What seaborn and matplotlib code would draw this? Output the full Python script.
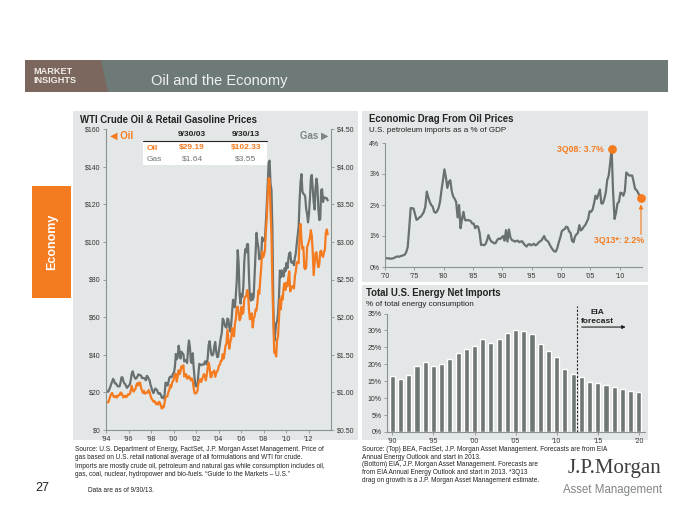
import numpy as np
import pandas as pd
import matplotlib
matplotlib.use("Agg")
import matplotlib.pyplot as plt
from matplotlib.patches import Rectangle, Polygon
import seaborn as sns

# --- data -------------------------------------------------------------
# WTI crude, monthly, Jan 1994 - Sep 2013 ($/bbl)
oil_price = [
    15.0, 14.8, 14.7, 16.4, 17.9, 19.1, 19.7, 18.4, 17.5, 17.7, 18.1, 17.2,
    18.0, 18.6, 18.5, 19.9, 19.7, 18.5, 17.3, 18.0, 18.2, 17.4, 18.0, 19.0,
    18.9, 19.1, 21.3, 23.5, 21.2, 20.4, 21.3, 21.9, 24.0, 24.9, 23.7, 25.2,
    25.1, 22.2, 21.0, 19.7, 20.8, 19.3, 19.7, 20.0, 19.8, 21.3, 20.2, 18.3,
    16.7, 16.1, 15.1, 15.4, 14.9, 13.7, 14.2, 13.5, 15.0, 14.5, 13.0, 11.4,
    12.5, 12.0, 14.7, 17.3, 17.7, 17.9, 20.1, 21.3, 23.8, 22.7, 25.0, 26.1,
    27.3, 29.4, 29.8, 25.7, 28.8, 31.8, 29.7, 31.3, 33.9, 33.1, 34.4, 28.4,
    29.6, 29.6, 27.3, 27.5, 28.6, 27.6, 26.4, 27.4, 26.2, 22.2, 19.6, 19.4,
    19.7, 20.7, 24.5, 26.2, 27.0, 25.5, 27.0, 28.4, 29.7, 28.8, 26.4, 29.5,
    33.0, 35.8, 33.5, 28.2, 28.1, 30.7, 30.8, 31.6, 28.3, 30.3, 31.1, 32.1,
    34.3, 34.7, 36.7, 36.8, 40.3, 38.0, 40.8, 44.9, 45.9, 53.3, 48.5, 43.2,
    46.8, 48.2, 54.2, 53.0, 49.8, 56.4, 59.0, 65.0, 65.6, 62.3, 58.3, 59.4,
    65.5, 61.6, 62.7, 69.4, 70.8, 71.0, 74.4, 73.0, 63.8, 58.9, 59.1, 62.0,
    54.5, 59.3, 60.4, 64.0, 63.5, 67.5, 74.1, 72.4, 79.9, 85.8, 94.8, 91.7,
    93.0, 95.4, 105.5, 112.6, 125.4, 133.9, 133.4, 116.7, 104.1, 76.6, 57.3, 41.1,
    41.7, 39.1, 47.9, 49.7, 59.0, 69.6, 64.2, 71.1, 69.4, 75.7, 78.0, 74.5,
    78.3, 76.4, 81.2, 84.3, 73.7, 75.3, 76.3, 76.6, 75.2, 81.9, 84.3, 89.2,
    89.2, 88.6, 102.9, 109.5, 100.9, 96.3, 97.3, 86.3, 85.5, 86.3, 97.2, 98.6,
    100.3, 102.2, 106.2, 103.3, 94.7, 82.3, 87.9, 94.1, 94.5, 89.5, 86.5, 87.9,
    94.8, 95.3, 92.9, 92.0, 94.5, 95.8, 104.7, 106.6, 104.0,
]
# US retail gasoline, monthly, Jan 1994 - Sep 2013 ($/gal)
gas_price = [
    1.02, 1.01, 1.01, 1.04, 1.07, 1.11, 1.14, 1.18, 1.16, 1.12, 1.12, 1.10,
    1.08, 1.08, 1.08, 1.13, 1.20, 1.20, 1.15, 1.12, 1.11, 1.08, 1.06, 1.08,
    1.09, 1.11, 1.17, 1.25, 1.28, 1.23, 1.20, 1.18, 1.19, 1.21, 1.24, 1.23,
    1.23, 1.22, 1.19, 1.19, 1.19, 1.18, 1.16, 1.22, 1.21, 1.18, 1.16, 1.10,
    1.06, 1.02, 0.99, 1.02, 1.05, 1.04, 1.03, 0.99, 0.98, 0.99, 0.97, 0.93,
    0.94, 0.92, 0.97, 1.13, 1.12, 1.09, 1.13, 1.19, 1.21, 1.20, 1.21, 1.25,
    1.26, 1.34, 1.51, 1.44, 1.47, 1.62, 1.54, 1.45, 1.54, 1.52, 1.51, 1.41,
    1.42, 1.43, 1.39, 1.57, 1.69, 1.60, 1.41, 1.39, 1.52, 1.33, 1.19, 1.08,
    1.10, 1.09, 1.24, 1.38, 1.37, 1.36, 1.37, 1.37, 1.37, 1.41, 1.41, 1.37,
    1.46, 1.63, 1.68, 1.58, 1.50, 1.49, 1.51, 1.61, 1.67, 1.55, 1.47, 1.47,
    1.56, 1.66, 1.73, 1.79, 1.98, 1.96, 1.90, 1.87, 1.86, 1.98, 1.97, 1.87,
    1.81, 1.90, 2.07, 2.23, 2.15, 2.13, 2.29, 2.49, 2.89, 2.71, 2.30, 2.18,
    2.31, 2.27, 2.41, 2.74, 2.90, 2.86, 2.97, 2.97, 2.55, 2.24, 2.22, 2.31,
    2.23, 2.27, 2.55, 2.84, 3.12, 3.00, 2.93, 2.77, 2.78, 2.78, 3.06, 3.01,
    3.03, 3.02, 3.25, 3.49, 3.76, 4.05, 4.08, 3.77, 3.69, 3.16, 2.14, 1.68,
    1.78, 1.92, 1.94, 2.05, 2.26, 2.62, 2.53, 2.62, 2.55, 2.54, 2.65, 2.61,
    2.72, 2.65, 2.77, 2.85, 2.86, 2.73, 2.72, 2.74, 2.69, 2.79, 2.85, 2.98,
    3.09, 3.20, 3.55, 3.79, 3.90, 3.67, 3.64, 3.63, 3.60, 3.44, 3.37, 3.26,
    3.37, 3.57, 3.84, 3.89, 3.72, 3.53, 3.43, 3.71, 3.84, 3.74, 3.44, 3.29,
    3.30, 3.69, 3.70, 3.53, 3.59, 3.59, 3.58, 3.58, 3.55,
]
table_dates = ["9/30/03", "9/30/13"]
table_oil = ["$29.19", "$102.33"]
table_gas = ["$1.64", "$3.55"]

# US petroleum imports as % of GDP, quarterly, 1970Q1 - 2013Q3
drag_pct = [
    0.29, 0.28, 0.28, 0.27, 0.27, 0.28, 0.30, 0.33, 0.34, 0.33, 0.35, 0.36,
    0.38, 0.40, 0.48, 0.65, 1.25, 1.90, 1.90, 1.88, 1.70, 1.52, 1.55, 1.60,
    1.63, 1.70, 1.78, 1.95, 2.43, 2.25, 2.10, 2.00, 1.95, 1.78, 1.75, 1.80,
    1.90, 2.10, 2.48, 2.80, 3.15, 2.90, 2.55, 2.75, 2.80, 2.45, 2.27, 2.20,
    2.10, 1.60, 2.00, 1.25, 1.55, 1.78, 1.52, 1.50, 1.52, 1.50, 1.48, 1.40,
    1.40, 1.25, 1.32, 1.30, 1.10, 0.71, 0.72, 0.70, 0.74, 0.85, 1.03, 0.90,
    0.82, 0.80, 0.76, 0.78, 0.87, 0.92, 0.90, 0.95, 1.00, 0.85, 1.19, 0.82,
    1.21, 0.95, 0.87, 0.85, 0.82, 0.84, 0.85, 0.80, 0.82, 0.83, 0.76, 0.70,
    0.66, 0.72, 0.74, 0.70, 0.72, 0.75, 0.70, 0.72, 0.78, 0.82, 0.85, 0.92,
    1.00, 0.88, 0.85, 0.80, 0.70, 0.62, 0.55, 0.50, 0.50, 0.62, 0.80, 0.95,
    1.15, 1.20, 1.22, 1.30, 1.28, 1.15, 1.10, 0.85, 0.80, 0.98, 1.05, 1.10,
    1.35, 1.18, 1.22, 1.30, 1.35, 1.45, 1.55, 1.80, 1.78, 1.85, 2.05, 2.30,
    2.20, 2.35, 2.50, 2.05, 2.05, 2.20, 2.40, 2.80, 2.95, 3.35, 3.80, 2.40,
    1.55, 1.75, 2.05, 2.10, 2.40, 2.38, 2.30, 2.45, 3.05, 3.00, 2.95, 2.95,
    2.95, 2.75, 2.52, 2.48, 2.40, 2.30, 2.22,
]

# Total US energy net imports, % of consumption (2013+ EIA forecast)
import_years = list(range(1990, 2021))
import_pct = [
    16.6, 15.7, 16.9, 19.4, 20.6, 19.4, 20.2, 21.7, 23.4, 24.4, 25.3,
    27.4, 26.3, 27.4, 29.1, 30.0, 29.8, 28.8, 26.1, 23.9, 22.2, 18.6,
    17.2, 16.1, 14.7, 14.5, 13.9, 13.3, 12.7, 12.2, 11.8,
]

# --- style ------------------------------------------------------------
ORANGE = "#f47b20"
LINE_GRAY = "#68716f"
BAR_GRAY = "#6f7775"
PANEL = "#e4e7e7"
SPINE = "#8c9191"
TXT = "#222222"
W, H = 700, 525

sns.set_theme(style="ticks")
plt.rcParams["font.family"] = ["Liberation Sans", "DejaVu Sans"]

fig = plt.figure(figsize=(7, 5.25), dpi=100)
fig.patch.set_facecolor("white")


def box(x0, y0, x1, y1, color, z=-1):
    fig.add_artist(Rectangle((x0 / W, 1 - y1 / H), (x1 - x0) / W, (y1 - y0) / H,
                             transform=fig.transFigure, facecolor=color,
                             edgecolor="none", zorder=z))


def label(x, y, s, **kw):
    kw.setdefault("va", "center")
    kw.setdefault("color", TXT)
    fig.text(x / W, 1 - y / H, s, **kw)


def axes_px(x0, y0, x1, y1):
    a = fig.add_axes([x0 / W, 1 - y1 / H, (x1 - x0) / W, (y1 - y0) / H])
    a.set_facecolor("none")
    return a


def style(a):
    a.tick_params(labelsize=5, length=2.5, width=0.6, pad=1.5,
                  color=SPINE, labelcolor="#333333")
    for s in a.spines.values():
        s.set_color(SPINE)
        s.set_linewidth(0.8)
    a.spines["top"].set_visible(False)
    a.spines["right"].set_visible(False)
    a.set_xlabel("")
    a.set_ylabel("")


def yr(y):
    return f"\u2019{y % 100:02d}"


# header bar
box(25, 60, 668, 92, "#6e7a78")
fig.add_artist(Polygon([(25 / W, 1 - 60 / H), (101 / W, 1 - 60 / H),
                        (108 / W, 1 - 92 / H), (25 / W, 1 - 92 / H)],
                       closed=True, transform=fig.transFigure,
                       facecolor="#7b675d", edgecolor="none", zorder=-0.5))
label(33, 76, "MARKET\nINSIGHTS", color="#f2eeea", fontsize=6.6,
      fontweight="bold", linespacing=1.1, ha="left")
label(151, 81, "Oil and the Economy", color="#eef1f0", fontsize=10.5, ha="left")

# side tab
box(32, 186, 71, 298, ORANGE)
label(52, 242, "Economy", color="white", fontsize=9, fontweight="bold",
      rotation=90, ha="center")
label(42, 488, "27", fontsize=9, ha="center")

# panels
box(73, 111, 358, 440, PANEL)
box(362, 111, 648, 282, PANEL)
box(362, 285, 648, 440, PANEL)

# --- left: WTI & gasoline -------------------------------------------
label(80, 120, "WTI Crude Oil & Retail Gasoline Prices", fontsize=6.9,
      fontweight="bold", ha="left")

t_month = 1994 + (np.arange(len(oil_price)) + 0.5) / 12
ax = axes_px(106, 129, 331, 430)
ax2 = ax.twinx()
ax2.set_facecolor("none")
ax.set_zorder(3)
ax2.set_zorder(2)
ax.patch.set_visible(False)

sns.lineplot(x=t_month, y=gas_price, ax=ax2, color=LINE_GRAY, linewidth=1.6)
sns.lineplot(x=t_month, y=oil_price, ax=ax, color=ORANGE, linewidth=1.6)

ax.set_xlim(1994, 2014)
ax.set_ylim(0, 160)
ax2.set_ylim(0.5, 4.5)
ax.set_xticks(range(1994, 2013, 2))
ax.set_xticklabels([yr(y) for y in range(1994, 2013, 2)])
ax.set_yticks(range(0, 161, 20))
ax.set_yticklabels([f"${v}" for v in range(0, 161, 20)])
ax2.set_yticks(np.arange(0.5, 4.51, 0.5))
ax2.set_yticklabels([f"${v:.2f}" for v in np.arange(0.5, 4.51, 0.5)])
style(ax)
style(ax2)
ax2.spines["right"].set_visible(True)
ax2.spines["left"].set_visible(False)
ax2.spines["bottom"].set_visible(False)
ax.spines["right"].set_visible(False)

label(110, 136, "\u25C0 Oil", color=ORANGE, fontsize=7, fontweight="bold", ha="left")
label(328, 136, "Gas \u25B6", color="#7d8584", fontsize=7, fontweight="bold", ha="right")

# inset table
box(143, 141, 267, 165, "white", z=4)
fig.add_artist(plt.Line2D([143 / W, 267 / W], [1 - 141 / H, 1 - 141 / H],
                          transform=fig.transFigure, color="#222222", lw=0.8, zorder=5))
for cx, d, o, g in zip([192, 246], table_dates, table_oil, table_gas):
    label(cx, 135, d, fontsize=6, fontweight="bold", ha="center", zorder=5)
    label(cx, 148, o, fontsize=6, fontweight="bold", ha="center", color=ORANGE, zorder=5)
    label(cx, 159, g, fontsize=6, ha="center", color="#6f7776", zorder=5)
label(147, 148, "Oil", fontsize=6, fontweight="bold", color=ORANGE, ha="left", zorder=5)
label(147, 159, "Gas", fontsize=6, color="#6f7776", ha="left", zorder=5)

# --- top right: economic drag ---------------------------------------
label(369, 119, "Economic Drag From Oil Prices", fontsize=6.9,
      fontweight="bold", ha="left")
label(369, 131, "U.S. petroleum imports as a % of GDP", fontsize=5.8, ha="left")

t_q = 1970 + (np.arange(len(drag_pct)) + 0.5) / 4
ax3 = axes_px(385, 143, 641.7, 267)
sns.lineplot(x=t_q, y=drag_pct, ax=ax3, color=LINE_GRAY, linewidth=1.6)
ax3.set_xlim(1970, 2013.75)
ax3.set_ylim(0, 4)
ax3.set_xticks(range(1970, 2011, 5))
ax3.set_xticklabels([yr(y) for y in range(1970, 2011, 5)])
ax3.set_yticks(range(0, 5))
ax3.set_yticklabels([f"{v}%" for v in range(0, 5)])
style(ax3)

i_peak = int(np.argmax(drag_pct))
ax3.scatter([t_q[i_peak], t_q[-1]], [drag_pct[i_peak], drag_pct[-1]],
            s=40, color=ORANGE, zorder=5, clip_on=False, linewidths=0)
ax3.annotate("3Q08: 3.7%", xy=(t_q[i_peak], drag_pct[i_peak]), xytext=(-6, 0),
             textcoords="offset points", ha="right", va="center",
             fontsize=6.3, fontweight="bold", color=ORANGE)
ax3.text(t_q[-1] + 0.5, 0.87, "3Q13*: 2.2%", ha="right", va="center",
         fontsize=6.3, fontweight="bold", color=ORANGE)
ax3.annotate("", xy=(t_q[-1], drag_pct[-1] - 0.2), xytext=(t_q[-1], 1.05),
             arrowprops=dict(arrowstyle="-|>", color=ORANGE, lw=0.8,
                             mutation_scale=6, shrinkA=0, shrinkB=0))

# --- bottom right: net imports --------------------------------------
label(366, 293, "Total U.S. Energy Net Imports", fontsize=6.9,
      fontweight="bold", ha="left")
label(366, 305, "% of total energy consumption", fontsize=5.8, ha="left")

ax4 = axes_px(387, 313.5, 645, 432)
imports = pd.DataFrame({"year": import_years, "pct": import_pct})
sns.barplot(data=imports, x="year", y="pct", native_scale=True, color=BAR_GRAY,
            saturation=1, width=0.62, errorbar=None, ax=ax4)
ax4.set_xlim(1989.35, 2020.75)
ax4.set_ylim(0, 35)
ax4.set_xticks(range(1990, 2021, 5))
ax4.set_xticklabels([yr(y) for y in range(1990, 2021, 5)])
ax4.set_yticks(range(0, 36, 5))
ax4.set_yticklabels([f"{v}%" for v in range(0, 36, 5)])
style(ax4)

ax4.axvline(2012.5, ymin=0, ymax=1.06, clip_on=False, color="#222222",
            lw=0.8, ls=(0, (2, 1.5)))
ax4.text(2015.0, 34.0, "EIA\nforecast", ha="center", va="center", fontsize=6,
         fontweight="bold", color=TXT, linespacing=1.25)
ax4.annotate("", xy=(2018.4, 31.0), xytext=(2013.05, 31.0),
             arrowprops=dict(arrowstyle="-|>", color="#222222", lw=0.8,
                             mutation_scale=5, shrinkA=0, shrinkB=0))

# --- footnotes ------------------------------------------------------
left_note = ("Source: U.S. Department of Energy, FactSet, J.P. Morgan Asset Management. Price of\n"
             "gas based on U.S. retail national average of all formulations and WTI for crude.\n"
             "Imports are mostly crude oil, petroleum and natural gas while consumption includes oil,\n"
             "gas, coal, nuclear, hydropower and bio-fuels. \u201cGuide to the Markets \u2013 U.S.\u201d")
right_note_top = ("Source: (Top) BEA, FactSet, J.P. Morgan Asset Management. Forecasts are from EIA\n"
                  "Annual Energy Outlook and start in 2013.")
right_note_bottom = ("(Bottom) EIA, J.P. Morgan Asset Management. Forecasts are\n"
                     "from EIA Annual Energy Outlook and start in 2013. *3Q13\n"
                     "drag on growth is a J.P. Morgan Asset Management estimate.")
label(75, 446, left_note, fontsize=4.7, ha="left", va="top", linespacing=1.25)
label(362, 446, right_note_top, fontsize=4.7, ha="left", va="top", linespacing=1.25)
label(362, 461, right_note_bottom, fontsize=4.7, ha="left", va="top", linespacing=1.25)
label(88, 490, "Data are as of 9/30/13.", fontsize=4.7, ha="left")

label(614, 469, "J.P.Morgan", family="Liberation Serif", fontsize=15,
      color="#3f3f3f", ha="center")
label(613, 490, "Asset Management", fontsize=8.3, color="#808584", ha="center")

fig.savefig("out.png", dpi=100, facecolor="white")
